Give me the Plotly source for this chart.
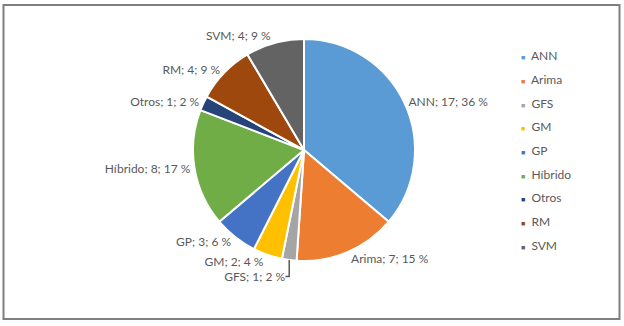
import plotly.graph_objects as go

categories = ["ANN", "Arima", "GFS", "GM", "GP", "Híbrido", "Otros", "RM", "SVM"]
counts = [17, 7, 1, 2, 3, 8, 1, 4, 4]
colors = ["#5B9BD5", "#ED7D31", "#A5A5A5", "#FFC000", "#4472C4",
          "#70AD47", "#264478", "#9E480E", "#636363"]

total = sum(counts)
pct_text = [f"{round(v / total * 100)}" for v in counts]

W, H = 624, 326
FONT = "Lato"
TXT = "#595959"

fig = go.Figure()
fig.add_trace(go.Pie(
    labels=categories,
    values=counts,
    customdata=pct_text,
    sort=False,
    direction="clockwise",
    rotation=0,
    marker=dict(colors=colors, line=dict(color="white", width=2)),
    textposition="outside",
    texttemplate="%{label}; %{value}; %{customdata} %",
    textfont=dict(family=FONT, size=12, color=TXT),
    showlegend=False,
    domain=dict(x=[193 / W, 415 / W], y=[1 - 261 / H, 1 - 39 / H]),
    hoverinfo="skip",
))

for i, (c, col) in enumerate(zip(categories, colors)):
    fig.add_trace(go.Scatter(
        x=[None], y=[None], mode="markers",
        name=f"<span style='color:{col};font-size:7px'>■</span>  {c}",
        legendgroup=f"g{i}",
        marker=dict(symbol="square", size=1, color="rgba(0,0,0,0)"),
        xaxis="x", yaxis="y",
    ))

fig.update_layout(
    width=W, height=H,
    margin=dict(l=0, r=0, t=0, b=0),
    paper_bgcolor="white",
    plot_bgcolor="rgba(0,0,0,0)",
    xaxis=dict(visible=False),
    yaxis=dict(visible=False),
    legend=dict(
        x=481 / W, y=1 - 41 / H, xanchor="left", yanchor="top",
        font=dict(family=FONT, size=12, color=TXT),
        tracegroupgap=4.7,
        traceorder="grouped",
        bgcolor="rgba(0,0,0,0)",
        itemsizing="trace",
    ),
    shapes=[dict(type="rect", xref="paper", yref="paper",
                 x0=3.5 / W, x1=619.5 / W, y0=1 - 319 / H, y1=1 - 5 / H,
                 line=dict(color="#7F7F7F", width=2), layer="above")],
)

fig.write_html("out.html",
               config={"displayModeBar": False},
               post_script="document.body.style.margin='0';document.body.style.overflow='hidden';")
